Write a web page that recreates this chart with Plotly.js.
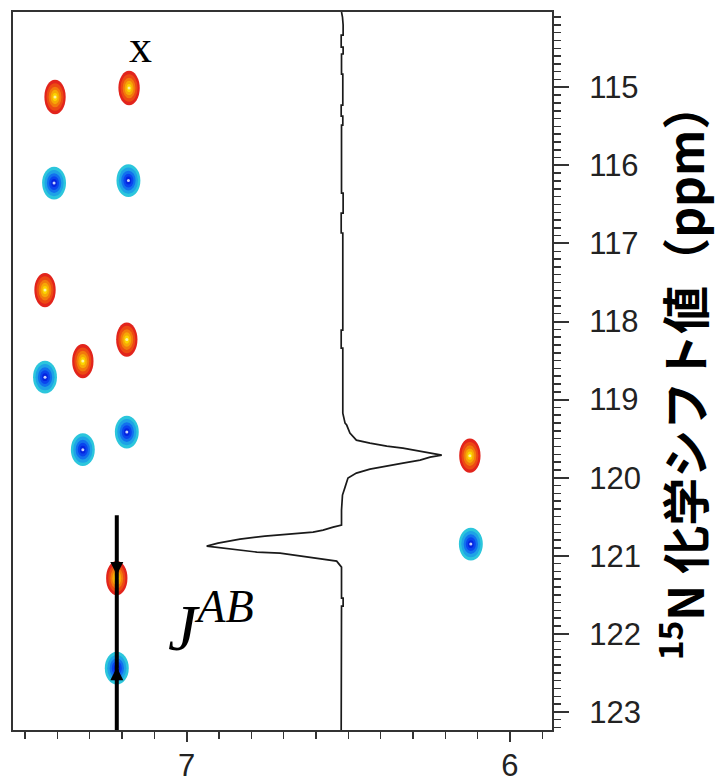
<!DOCTYPE html>
<html>
<head>
<meta charset="utf-8">
<script src="https://cdn.plot.ly/plotly-3.0.1.min.js"></script>
<style>html,body{margin:0;padding:0;background:#fff;}#chart{width:720px;height:779px;}</style>
</head>
<body>
<div id="chart"></div>
<script>
// ---- data (ppm) ----
// positive (red) cross peaks
const redX = [7.407, 7.178, 7.438, 7.321, 7.185, 6.124, 7.216];
const redY = [115.124, 115.009, 117.597, 118.507, 118.231, 119.718, 121.287];
// negative (blue) cross peaks
const blueX = [7.410, 7.180, 7.438, 7.321, 7.185, 6.121, 7.216];
const blueY = [116.226, 116.194, 118.712, 119.641, 119.416, 120.851, 122.440];
// 1D projection trace (x = ppm position of the drawn line, y = 15N ppm)
const projX = [6.521,6.518,6.516,6.516,6.522,6.522,6.516,6.516,6.521,6.521,6.517,6.517,6.522,6.522,6.517,6.517,6.521,6.521,6.516,6.516,6.522,6.522,6.517,6.517,6.522,6.522,6.517,6.517,6.510,6.505,6.495,6.475,6.433,6.381,6.331,6.278,6.247,6.211,6.247,6.278,6.331,6.381,6.433,6.475,6.501,6.510,6.518,6.521,6.521,6.547,6.578,6.609,6.680,6.758,6.835,6.876,6.903,6.938,6.866,6.783,6.711,6.650,6.598,6.536,6.521,6.521,6.516,6.516,6.521,6.521,6.522,6.522];
const projY = [114.035,114.099,114.202,114.330,114.330,114.484,114.484,114.573,114.573,114.830,114.830,115.227,115.227,115.368,115.368,115.483,115.483,116.354,116.354,116.610,116.610,116.866,116.866,118.109,118.109,118.340,118.340,119.173,119.301,119.326,119.429,119.519,119.557,119.596,119.621,119.659,119.685,119.711,119.736,119.775,119.813,119.852,119.890,119.941,120.005,120.121,120.223,120.415,120.607,120.633,120.671,120.697,120.722,120.748,120.787,120.812,120.838,120.876,120.915,120.953,120.966,121.005,121.030,121.069,121.146,121.543,121.543,121.645,121.645,122.632,122.632,123.232];
// J coupling marker
const jX = [7.216, 7.216];
const jY = [120.480, 123.232];
const jArrowX = [7.216, 7.216];
const jArrowTipY = [121.248, 122.427];
// axis ticks
const xTickVals = [7, 6];
const xTickText = ['7', '6'];
const yTickVals = [115,116,117,118,119,120,121,122,123];
const yTickText = ['115','116','117','118','119','120','121','122','123'];
const topLabel = 'x';
const jLabel = '<i>J<sup>AB</sup></i>';
const yTitle = '<sup>15</sup>N 化学シフト値（ppm）';

// ---- styling ----
const redW = 0.066, redH = 0.44;
const blueW = 0.074, blueH = 0.42;
const layerScale = [1.0, 0.8, 0.6, 0.42, 0.24];
const redCols = ['#e2241c', '#ec4a14', '#f27a0c', '#f6a806', '#fbd400'];
const blueCols = ['#2cc6dc', '#1ea2e6', '#1270ee', '#0a44ee', '#0424e0'];

const shapes = [];
function addPeaks(xs, ys, w, h, cols) {
  for (let i = 0; i < xs.length; i++) {
    layerScale.forEach((s, k) => {
      shapes.push({type: 'circle', xref: 'x', yref: 'y', layer: 'below',
        x0: xs[i] - w * s / 2, x1: xs[i] + w * s / 2,
        y0: ys[i] - h * s / 2, y1: ys[i] + h * s / 2,
        fillcolor: cols[k], line: {width: 0}});
    });
  }
}
addPeaks(redX, redY, redW, redH, redCols);
addPeaks(blueX, blueY, blueW, blueH, blueCols);

const traces = [
  {type: 'scatter', mode: 'markers', x: redX, y: redY, name: 'positive',
   marker: {size: 3, color: '#fff3a0'}, hoverinfo: 'x+y'},
  {type: 'scatter', mode: 'markers', x: blueX, y: blueY, name: 'negative',
   marker: {size: 3, color: '#c8d4ff'}, hoverinfo: 'x+y'},
  {type: 'scatter', mode: 'lines', x: projX, y: projY, name: 'projection',
   line: {color: '#1a1a1a', width: 1.7}},
  {type: 'scatter', mode: 'lines', x: jX, y: jY, name: 'J',
   line: {color: '#000', width: 4}},
  {type: 'scatter', mode: 'markers', x: jArrowX, y: jArrowTipY, name: 'J arrows',
   marker: {symbol: ['arrow-down', 'arrow-up'], size: 13, color: '#000', line: {width: 0}}}
];

const tickFont = {family: 'Liberation Sans, Arial, sans-serif', size: 31, color: '#222'};

const annotations = [
  {x: 7.143, y: 114.48, xref: 'x', yref: 'y', text: topLabel, showarrow: false,
   font: {family: 'Liberation Serif, Times New Roman, serif', size: 46, color: '#000'}},
  {x: 6.925, y: 121.85, xref: 'x', yref: 'y', text: jLabel, showarrow: false,
   font: {family: 'Liberation Serif, Times New Roman, serif', size: 66, color: '#000'}}
];

const layout = {
  width: 720, height: 779,
  margin: {l: 13, r: 168, t: 12, b: 49},
  paper_bgcolor: '#fff', plot_bgcolor: '#fff',
  showlegend: false,
  xaxis: {
    range: [7.537, 5.870], showgrid: false, zeroline: false,
    showline: true, mirror: true, linecolor: '#333', linewidth: 2,
    tickmode: 'array', tickvals: xTickVals, ticktext: xTickText,
    ticks: 'outside', ticklen: 10, tickwidth: 2, tickcolor: '#333',
    minor: {tick0: 0, dtick: 0.1, ticks: 'outside', ticklen: 7, tickwidth: 1.5, tickcolor: '#333', showgrid: false},
    tickfont: tickFont, ticklabelstandoff: -3, automargin: false
  },
  yaxis: {
    range: [123.232, 114.035], side: 'right', showgrid: false, zeroline: false,
    showline: true, mirror: true, linecolor: '#333', linewidth: 2,
    tickmode: 'array', tickvals: yTickVals, ticktext: yTickText,
    ticks: 'outside', ticklen: 15, tickwidth: 2, tickcolor: '#333',
    minor: {tick0: 0, dtick: 0.1, ticks: 'outside', ticklen: 7, tickwidth: 1.5, tickcolor: '#333', showgrid: false},
    tickfont: tickFont, ticklabelstandoff: 14, automargin: false,
    title: {text: yTitle, standoff: 30,
      font: {family: 'Noto Sans CJK JP, Noto Sans, sans-serif', size: 48, color: '#000', weight: 'bold'}}
  },
  shapes: shapes,
  annotations: annotations
};

Plotly.newPlot('chart', traces, layout, {staticPlot: true, displayModeBar: false});
</script>
</body>
</html>
